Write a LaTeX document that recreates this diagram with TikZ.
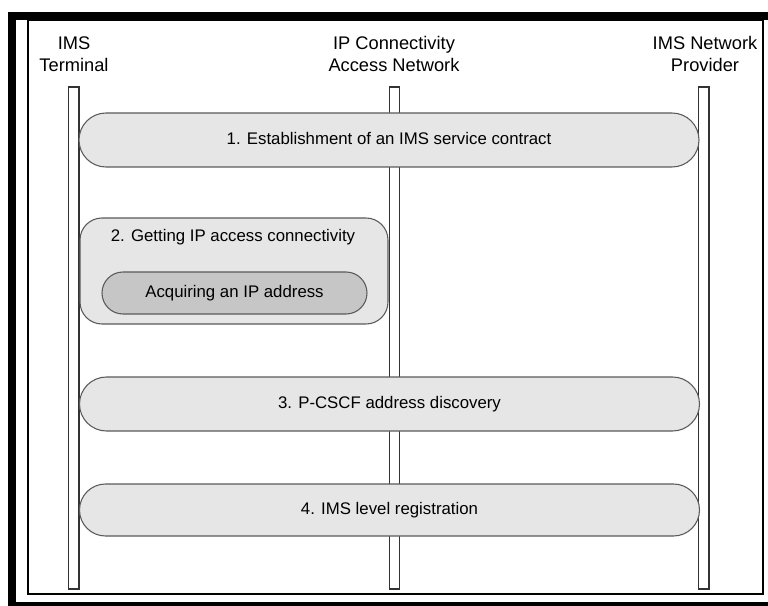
\documentclass[tikz,border=0pt]{standalone}
\usepackage{fontspec}
\setmainfont{Liberation Sans}
\usetikzlibrary{shapes.misc}
\definecolor{stagefill}{HTML}{E6E6E6}
\definecolor{subfill}{HTML}{C6C6C6}
\definecolor{stageline}{HTML}{5A5A5A}
\definecolor{lifeline}{HTML}{333333}
\tikzset{
  lifebar/.style={draw=lifeline, line width=1pt, fill=white, rectangle,
    minimum width=7.875pt, minimum height=376.5pt, inner sep=0pt},
  actor/.style={anchor=base, inner sep=0pt, font=\fontsize{13.7}{16}\selectfont},
  stagebox/.style={draw=stageline, line width=0.8pt, fill=stagefill, rounded rectangle,
    inner sep=0pt, text height=0.716em, text depth=0pt,
    font=\fontsize{12.6}{15}\selectfont},
  groupbox/.style={draw=stageline, line width=0.8pt, fill=stagefill, rectangle,
    rounded corners=16.5pt, inner sep=0pt},
  subbox/.style={stagebox, fill=subfill},
  steplabel/.style={anchor=base, inner sep=0pt, font=\fontsize{12.6}{15}\selectfont}
}
\begin{document}
\begin{tikzpicture}[x=0.75pt,y=-0.75pt]
  \useasboundingbox (0,0) rectangle (768,606);
  \clip (0,0) rectangle (768,606);
  % outer heavy frame and inner thin frame
  \draw[line width=6pt] (12,630) -- (12,16.5) -- (790,16.5);
  \draw[line width=6pt] (12,606) -- (790,606);
  \draw[line width=0.8pt] (28,20) rectangle (763,594);

  % participants
  \node[actor] (termA) at (74,50) {IMS};
  \node[actor] (termB) at (74,72) {Terminal};
  \node[actor] (ipcA) at (394,50) {IP Connectivity};
  \node[actor] (ipcB) at (394,72) {Access Network};
  \node[actor] (provA) at (705,50) {IMS Network};
  \node[actor] (provB) at (705,72) {Provider};

  % lifelines
  \node[lifebar] (termLine) at (73.7,338) {};
  \node[lifebar] (ipcLine) at (394.5,338) {};
  \node[lifebar] (provLine) at (703.6,338) {};

  % phases
  \node[stagebox, minimum width=465pt, minimum height=40.5pt] (contract) at (389,140)
    {1. Establishment of an IMS service contract};

  \node[groupbox, minimum width=231pt, minimum height=79.5pt] (access) at (234,271) {};
  \node[steplabel] (accessText) at (233,242) {2. Getting IP access connectivity};
  \node[subbox, minimum width=198.75pt, minimum height=31.5pt] (address) at (234.5,293)
    {Acquiring an IP address};

  \node[stagebox, minimum width=465pt, minimum height=40.5pt] (discovery) at (389.5,404)
    {3. P-CSCF address discovery};

  \node[stagebox, minimum width=465pt, minimum height=39pt] (registration) at (389.5,510)
    {4. IMS level registration};
\end{tikzpicture}
\end{document}
